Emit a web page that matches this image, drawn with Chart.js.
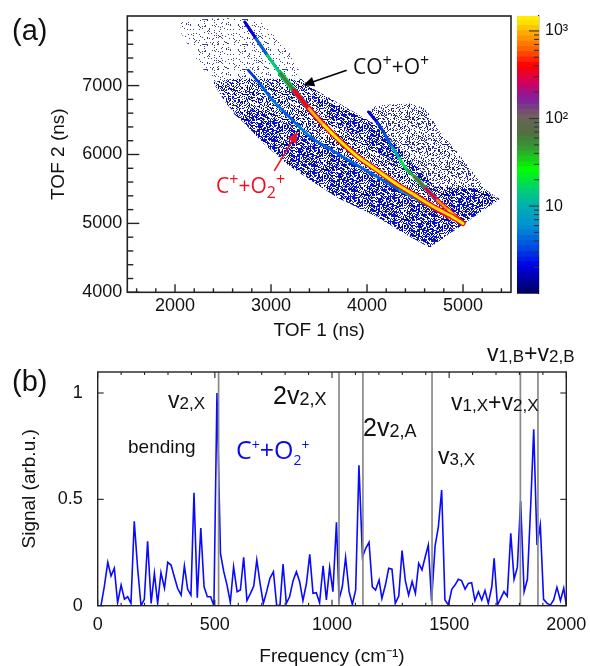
<!DOCTYPE html>
<html lang="en">
<head>
<meta charset="UTF-8">
<title>TOF map and frequency spectrum</title>
<script src="https://cdn.jsdelivr.net/npm/chart.js"></script>
<style>
  body { margin: 0; background: #fff; width: 590px; height: 666px; position: relative; overflow: hidden;
         font-family: "Liberation Sans", Arial, sans-serif; color: #111; }
  .box { position: absolute; }
  #tofMap { filter: blur(0.4px); }
  .ann { position: absolute; white-space: nowrap; line-height: 1; z-index: 5; }
  .panel { font-size: 29px; }
  .ion { font-family: "Open Sans", sans-serif; font-size: 21px; }
  .ion sup, .ion sub { font-size: 16px; line-height: 0; }
  .red { color: #f01020; }
  .blue { color: #0a0aee; font-size: 25px; }
  .blue sup, .blue sub { font-size: 14px; }
  .big { font-size: 25px; }
  .big i { font-style: normal; font-size: 18px; position: relative; top: 1px; }
  .mid { font-size: 23px; }
  .mid i { font-style: normal; font-size: 17px; position: relative; top: 1px; }
</style>
</head>
<body>
<div class="box" style="left:0;top:0;width:515px;height:345px"><canvas id="tofMap"></canvas></div>
<div class="box" style="left:517px;top:0;width:73px;height:310px"><canvas id="palette"></canvas></div>
<div class="box" style="left:0;top:340px;width:590px;height:332px"><canvas id="spectrum"></canvas></div>

<div class="ann panel" style="left:12px;top:16px">(a)</div>
<div class="ann panel" style="left:12px;top:367px">(b)</div>
<div class="ann ion" style="left:353px;top:56px">CO<sup>+</sup>+O<sup>+</sup></div>
<div class="ann ion red" style="left:216px;top:175px">C<sup>+</sup>+O<sub>2</sub><sup>+</sup></div>
<div class="ann" style="left:128px;top:437px;font-size:19px">bending</div>
<div class="ann ion blue" style="left:236px;top:437px">C<sup>+</sup>+O<sub>2</sub><sup>+</sup></div>
<div class="ann mid" style="left:168px;top:389px">v<i>2,X</i></div>
<div class="ann big" style="left:273px;top:383px">2v<i>2,X</i></div>
<div class="ann big" style="left:363px;top:415px">2v<i>2,A</i></div>
<div class="ann mid" style="left:438px;top:445px">v<i>3,X</i></div>
<div class="ann mid" style="left:451px;top:391px">v<i>1,X</i>+v<i>2,X</i></div>
<div class="ann mid" style="left:487px;top:342px">v<i>1,B</i>+v<i>2,B</i></div>

<script>
// event clouds of panel (a), outlines (TOF 1, TOF 2 in ns)
const faintCloudX = [2051, 2067, 2275, 2393, 2609, 2924, 3317, 3199, 2924, 2727, 2373];
const faintCloudY = [7946, 7753, 7270, 7053, 7101, 7101, 7149, 7463, 7898, 7985, 7970];
const bandCloudX = [2393, 2531, 2727, 2924, 3159, 3434, 3710, 4103, 4417, 4653, 5006, 4810, 4496, 4103, 3710, 3434, 3317, 2924, 2609];
const bandCloudY = [7053, 6739, 6449, 6159, 5869, 5604, 5362, 5097, 4831, 4652, 4990, 5386, 5869, 6425, 6739, 6956, 7101, 7101, 7101];
const denseCloudX = [2609, 2727, 2924, 3159, 3434, 3710, 4103, 4417, 4653, 5006, 4998, 4496, 4103, 3710, 3317, 3002, 2766];
const denseCloudY = [6594, 6449, 6159, 5869, 5604, 5362, 5097, 4831, 4652, 4990, 5024, 5386, 5700, 6014, 6352, 6546, 6666];
const upperCloudX = [3434, 3710, 4103, 4496, 4692, 4299, 3906, 3552];
const upperCloudY = [6860, 6690, 6400, 5860, 5530, 5860, 6250, 6590];
const rightCloudX = [4004, 4103, 4456, 4613, 4771, 4928, 5242, 5380, 5006, 4810, 4496, 4103];
const rightCloudY = [6618, 6715, 6739, 6666, 6304, 6063, 5483, 5353, 4990, 5386, 5869, 6425];
const cornerCloudX = [4692, 5164, 5380, 5006, 4810];
const cornerCloudY = [5531, 5507, 5353, 4990, 5290];

// the three coincidence lines with their counts
const mainLineX = [2727, 2845, 2963, 3100, 3238, 3395, 3552, 3710, 3906, 4103, 4299, 4496, 4692, 4889, 4999];
const mainLineY = [7922, 7681, 7439, 7174, 6932, 6666, 6425, 6207, 5966, 5773, 5580, 5411, 5241, 5097, 5000];
const mainLineCounts = [2, 4, 15, 60, 400, 1000, 1400, 1400, 1400, 1400, 1300, 1200, 1200, 1400, 1450];
const lowerLineX = [2766, 2884, 3002, 3120, 3277, 3434, 3631, 3867, 4103, 4338, 4535, 4692, 4849, 4999];
const lowerLineY = [7222, 7029, 6811, 6642, 6425, 6232, 6063, 5869, 5676, 5483, 5338, 5217, 5097, 5000];
const lowerLineCounts = [3, 4, 5, 4, 5, 4, 4, 4, 4, 6, 40, 300, 800, 1450];
const rightLineX = [4016, 4103, 4181, 4260, 4338, 4417, 4496, 4613, 4731, 4849, 4999];
const rightLineY = [6618, 6473, 6304, 6111, 5942, 5773, 5676, 5507, 5338, 5193, 5000];
const rightLineCounts = [2, 3, 4, 10, 22, 40, 100, 300, 800, 1200, 1450];

// colour bar levels
const paletteEdges = [1, 1.15, 1.3, 1.5, 1.75, 2, 2.3, 2.6, 3, 3.5, 4, 4.6, 5.3, 6, 7, 8, 9.2, 10.6, 12, 14, 16, 18.5, 21, 24, 28, 32, 37, 42, 48, 55, 63, 72, 83, 95, 110, 126, 145, 166, 190, 218, 250, 288, 330, 380, 436, 500, 575, 660, 760, 870, 1000, 1150, 1320, 1480];
const paletteMajor = [10, 100, 1000];
const paletteMinor = [2, 3, 4, 5, 6, 7, 8, 9, 20, 30, 40, 50, 60, 70, 80, 90, 200, 300, 400, 500, 600, 700, 800, 900];

// tick values panel (a)
const tofXMajor = [2000, 3000, 4000, 5000];
const tofXMinor = [1600, 1800, 2200, 2400, 2600, 2800, 3200, 3400, 3600, 3800, 4200, 4400, 4600, 4800, 5200, 5400];
const tofYMajor = [4000, 5000, 6000, 7000];
const tofYMinor = [4200, 4400, 4600, 4800, 5200, 5400, 5600, 5800, 6200, 6400, 6600, 6800, 7200, 7400, 7600, 7800];

// arrows [TOF 1, TOF 2]
const blackArrowFrom = [3788, 7222];
const blackArrowTo = [3336, 7005];
const redArrowFrom = [3034, 5763];
const redArrowTo = [3277, 6328];

// spectrum of panel (b)
const frequencies = [0, 14, 28, 43, 57, 71, 85, 100, 114, 128, 142, 156, 171, 185, 199, 213, 228, 242, 256, 270, 285, 299, 313, 327, 341, 356, 370, 384, 398, 411, 425, 440, 454, 468, 482, 496, 509, 524, 538, 552, 566, 580, 595, 609, 623, 637, 652, 666, 679, 693, 707, 721, 735, 750, 764, 778, 791, 805, 819, 834, 848, 862, 876, 891, 905, 919, 933, 947, 962, 976, 990, 1004, 1019, 1030, 1044, 1058, 1073, 1087, 1101, 1115, 1130, 1144, 1158, 1172, 1186, 1201, 1213, 1228, 1242, 1256, 1270, 1285, 1299, 1313, 1327, 1342, 1356, 1370, 1384, 1398, 1411, 1425, 1440, 1454, 1468, 1482, 1497, 1511, 1525, 1539, 1553, 1568, 1582, 1596, 1610, 1625, 1639, 1653, 1667, 1682, 1692, 1706, 1720, 1734, 1748, 1763, 1777, 1791, 1805, 1820, 1834, 1848, 1861, 1875, 1889, 1903, 1918, 1932, 1946, 1960, 1975, 1989, 2000];
const signal = [0, 0, .089, .204, .140, .176, .014, .097, .031, .042, .011, .397, .168, 0, .030, .303, .011, .152, .011, .155, .082, .204, .191, .136, .082, .050, .187, .077, .050, .531, .038, .365, .089, .042, .042, 0, 1, .246, .160, .097, .016, .183, .066, .074, .227, .024, .058, .092, .215, .105, .011, .066, .129, .160, 0, .003, .196, .011, .042, .118, .160, .113, .024, .105, .241, .058, .061, .014, .188, .027, .180, .066, .392, .030, .089, .227, .066, .006, .074, .660, .230, .270, .298, .089, .074, .121, .034, .097, .176, .172, .011, .045, .259, .118, .050, .113, .058, .199, .168, .230, .285, .024, .281, .371, .544, .027, .003, .077, .097, .124, .118, .078, .105, .108, .024, .066, .027, .071, .011, .089, .223, .003, .034, .066, .045, .340, .124, .180, .492, .066, .124, .470, .829, .285, .379, .030, .011, .003, .027, .086, .024, .082, .003];
const bandLines = [516, 1030, 1132, 1427, 1804, 1879];
const freqMajor = [0, 500, 1000, 1500, 2000];
const freqMinor = [100, 200, 300, 400, 600, 700, 800, 900, 1100, 1200, 1300, 1400, 1600, 1700, 1800, 1900];
const signalMajor = [0, 0.5, 1];

// speckle tile for the clouds, one digit per pixel, 40 pixels a row
const speckleDigits =
  "31415926535897932384626433832795028841971693993751" +
  "05820974944592307816406286208998628034825342117067" +
  "98214808651328230664709384460955058223172535940812" +
  "84811174502841027019385211055596446229489549303819" +
  "64428810975665933446128475648233786783165271201909" +
  "14564856692346034861045432664821339360726024914127" +
  "37245870066063155881748815209209628292540917153643" +
  "67892590360011330530548820466521384146951941511609" +
  "43305727036575959195309218611738193261179310511854" +
  "80744623799627495673518857527248912279381830119491" +
  "29833673362440656643086021394946395224737190702179" +
  "86094370277053921717629317675238467481846766940513" +
  "20005681271452635608277857713427577896091736371787" +
  "21468440901224953430146549585371050792279689258923" +
  "54201995611212902196086403441815981362977477130996" +
  "05187072113499999983729780499510597317328160963185" +
  "95024459455346908302642522308253344685035261931188" +
  "17101000313783875288658753320838142061717766914730" +
  "35982534904287554687311595628638823537875937519577" +
  "81857780532171226806613001927876611195909216420198";

function makeSpeckle(threshold, color, dark) {
  const w = 40, h = Math.floor(speckleDigits.length / w);
  const tile = document.createElement('canvas');
  tile.width = w;
  tile.height = h;
  const g = tile.getContext('2d');
  for (let y = 0; y < h; y++) {
    for (let x = 0; x < w; x++) {
      const d = +speckleDigits[y * w + x];
      if (d < threshold) continue;
      g.fillStyle = d === 9 ? dark : color;
      g.fillRect(x, y, 1, 1);
    }
  }
  return g.createPattern(tile, 'repeat');
}

// colour ramp of the colour bar, position = log10(counts)
const rampPos = [0, 0.1, 0.31, 0.54, 0.77, 1, 1.19, 1.41, 1.64, 1.83, 2.02, 2.21, 2.4, 2.6, 2.78, 2.97, 3.08, 3.17];
const rampRgb = [[0, 0, 90], [0, 0, 140], [0, 0, 230], [0, 80, 225], [0, 145, 210], [0, 176, 176], [0, 208, 112], [0, 255, 0], [48, 160, 48], [80, 112, 64], [112, 96, 96], [128, 32, 160], [208, 0, 96], [255, 0, 0], [255, 96, 0], [255, 170, 0], [255, 220, 0], [255, 245, 0]];

function rampColor(count) {
  const p = Math.log10(count);
  let i = 0;
  while (i < rampPos.length - 2 && p > rampPos[i + 1]) i++;
  const t = Math.min(1, Math.max(0, (p - rampPos[i]) / (rampPos[i + 1] - rampPos[i])));
  const c = rampRgb[i].map((v, k) => Math.round(v + (rampRgb[i + 1][k] - v) * t));
  return `rgb(${c[0]},${c[1]},${c[2]})`;
}

function zip(xs, ys) {
  return xs.map((x, i) => ({ x: x, y: ys[i] }));
}

function cloud(xs, ys, pattern, order) {
  return {
    data: zip(xs, ys), showLine: true, fill: 'shape', backgroundColor: pattern,
    borderWidth: 0, pointRadius: 0, tension: 0, order: order
  };
}

// low counts run thinner, hot part gets a yellow core over a darker edge
function curve(xs, ys, counts, width, scaleColor, order) {
  return {
    data: zip(xs, ys), showLine: true, fill: false, pointRadius: 0, tension: 0.2,
    borderWidth: width, borderCapStyle: 'round', order: order,
    segment: {
      borderColor: c => rampColor(Math.max(1, counts[c.p0DataIndex] * scaleColor)),
      borderWidth: c => counts[c.p0DataIndex] < 50 ? Math.min(width, 2.8) : width
    }
  };
}

// axis ticks pointing into the frame, the frame itself and the arrows
function framePlugin(spec) {
  return {
    id: 'frame',
    afterDatasetsDraw(chart) {
      const g = chart.ctx, a = chart.chartArea;
      g.save();
      g.strokeStyle = spec.color;
      g.lineWidth = spec.tickWidth;
      spec.ticks.forEach(t => {
        const s = chart.scales[t.axis];
        t.values.forEach(v => {
          const p = s.getPixelForValue(v);
          g.beginPath();
          if (t.side === 'bottom') { g.moveTo(p, a.bottom); g.lineTo(p, a.bottom - t.len); }
          if (t.side === 'top') { g.moveTo(p, a.top); g.lineTo(p, a.top + t.len); }
          if (t.side === 'left') { g.moveTo(a.left, p); g.lineTo(a.left + t.len, p); }
          if (t.side === 'right') { g.moveTo(a.right, p); g.lineTo(a.right - t.len, p); }
          g.stroke();
        });
      });
      if (spec.box) {
        g.lineWidth = spec.box;
        g.strokeRect(a.left, a.top, a.right - a.left, a.bottom - a.top);
      }
      (spec.arrows || []).forEach(ar => {
        const x0 = chart.scales.x.getPixelForValue(ar.from[0]), y0 = chart.scales.y.getPixelForValue(ar.from[1]);
        const x1 = chart.scales.x.getPixelForValue(ar.to[0]), y1 = chart.scales.y.getPixelForValue(ar.to[1]);
        const ang = Math.atan2(y1 - y0, x1 - x0);
        g.strokeStyle = ar.color; g.fillStyle = ar.color; g.lineWidth = 1.6;
        g.beginPath(); g.moveTo(x0, y0); g.lineTo(x1 - 6 * Math.cos(ang), y1 - 6 * Math.sin(ang)); g.stroke();
        g.beginPath(); g.moveTo(x1, y1);
        g.lineTo(x1 - 12 * Math.cos(ang - 0.42), y1 - 12 * Math.sin(ang - 0.42));
        g.lineTo(x1 - 12 * Math.cos(ang + 0.42), y1 - 12 * Math.sin(ang + 0.42));
        g.closePath(); g.fill();
      });
      g.restore();
    }
  };
}

function setTicks(values) {
  return s => { s.ticks = values.map(v => ({ value: v })); };
}

Chart.defaults.font.family = '"Liberation Sans", Arial, sans-serif';
Chart.defaults.color = '#111';
Chart.defaults.animation = false;
Chart.defaults.responsive = true;
Chart.defaults.maintainAspectRatio = false;
Chart.defaults.plugins.legend.display = false;
Chart.defaults.plugins.tooltip.enabled = false;

const faint = makeSpeckle(9, '#3a3f90', '#3a3f90');
const sparse = makeSpeckle(7, '#2a2f9a', '#1a1f80');
const medium = makeSpeckle(6, '#0d18b8', '#00007a');
const dense = makeSpeckle(4, '#0a14c8', '#00007a');

new Chart(document.getElementById('tofMap'), {
  type: 'scatter',
  data: {
    datasets: [
      cloud(faintCloudX, faintCloudY, faint, 9),
      cloud(rightCloudX, rightCloudY, sparse, 9),
      cloud(bandCloudX, bandCloudY, medium, 8),
      cloud(cornerCloudX, cornerCloudY, dense, 7),
      cloud(denseCloudX, denseCloudY, dense, 7),
      cloud(upperCloudX, upperCloudY, dense, 7),
      curve(lowerLineX, lowerLineY, lowerLineCounts, 3.4, 1, 5),
      curve(rightLineX, rightLineY, rightLineCounts, 4.4, 0.35, 4),
      curve(rightLineX, rightLineY, rightLineCounts, 2.4, 1, 3),
      curve(mainLineX, mainLineY, mainLineCounts, 5.4, 0.3, 2),
      curve(mainLineX, mainLineY, mainLineCounts, 3, 1, 1)
    ]
  },
  options: {
    layout: { padding: { top: 16, right: 4, left: 0, bottom: 0 } },
    scales: {
      x: {
        type: 'linear', min: 1503, max: 5500,
        afterBuildTicks: setTicks(tofXMajor.concat(tofXMinor)),
        afterFit: s => { s.height = 52.7; },
        grid: { display: false, drawTicks: false }, border: { display: false },
        ticks: { autoSkip: false, maxRotation: 0, padding: 3, font: { size: 18 },
                 callback: v => tofXMajor.includes(v) ? String(v) : '' },
        title: { display: true, text: 'TOF 1 (ns)', font: { size: 19 }, padding: { top: 0, bottom: 2.6 } }
      },
      y: {
        type: 'linear', min: 4000, max: 8010,
        afterBuildTicks: setTicks(tofYMajor.concat(tofYMinor)),
        afterFit: s => { s.width = 127.3; },
        grid: { display: false, drawTicks: false }, border: { display: false },
        ticks: { autoSkip: false, padding: 5, font: { size: 18 },
                 callback: v => tofYMajor.includes(v) ? String(v) : '' },
        title: { display: true, text: 'TOF 2 (ns)', font: { size: 19 }, padding: { top: 47.6, bottom: 0 } }
      }
    }
  },
  plugins: [framePlugin({
    color: '#222', tickWidth: 1.4, box: 1.6,
    ticks: [
      { axis: 'x', side: 'bottom', values: tofXMajor, len: 8 },
      { axis: 'x', side: 'bottom', values: tofXMinor, len: 4 },
      { axis: 'y', side: 'left', values: tofYMajor, len: 12 },
      { axis: 'y', side: 'left', values: tofYMinor, len: 6 }
    ],
    arrows: [
      { from: blackArrowFrom, to: blackArrowTo, color: '#000' },
      { from: redArrowFrom, to: redArrowTo, color: '#f01020' }
    ]
  })]
});

new Chart(document.getElementById('palette'), {
  type: 'bar',
  data: {
    labels: ['counts'],
    datasets: paletteEdges.slice(1).map((hi, i) => ({
      data: [[paletteEdges[i], hi * 1.01]],
      backgroundColor: rampColor(Math.sqrt(paletteEdges[i] * hi)),
      borderWidth: 0, borderSkipped: false, barPercentage: 1, categoryPercentage: 1
    }))
  },
  options: {
    layout: { padding: { top: 16, bottom: 16.3, left: 0, right: 0 } },
    scales: {
      x: { stacked: true, display: false },
      y: {
        type: 'logarithmic', position: 'right', min: 1, max: 1480,
        afterBuildTicks: setTicks(paletteMajor.concat(paletteMinor)),
        afterFit: s => { s.width = 51; },
        grid: { display: false, drawTicks: false }, border: { display: true, color: '#222', width: 1.2 },
        ticks: { autoSkip: false, padding: 6, font: { size: 16 },
                 callback: v => ({ 10: '10', 100: '10²', 1000: '10³' })[v] || '' }
      }
    }
  },
  plugins: [framePlugin({
    color: '#333', tickWidth: 1.1,
    ticks: [
      { axis: 'y', side: 'right', values: paletteMajor, len: 10 },
      { axis: 'y', side: 'right', values: paletteMinor, len: 5 }
    ]
  })]
});

new Chart(document.getElementById('spectrum'), {
  type: 'scatter',
  data: {
    datasets: bandLines.map(f => ({
      data: [{ x: f, y: 0 }, { x: f, y: 1.0987 }], showLine: true, pointRadius: 0,
      borderColor: '#8a8a8a', borderWidth: 1.7, order: 1
    })).concat([{
      data: zip(frequencies, signal), showLine: true, pointRadius: 0, tension: 0,
      borderColor: '#0a0aff', borderWidth: 1.6, order: 2
    }])
  },
  options: {
    layout: { padding: { top: 32, right: 23.7, left: 0, bottom: 0 } },
    scales: {
      x: {
        type: 'linear', min: 0, max: 2000,
        afterBuildTicks: setTicks(freqMajor.concat(freqMinor)),
        afterFit: s => { s.height = 66.3; },
        grid: { display: false, drawTicks: false }, border: { display: false },
        ticks: { autoSkip: false, maxRotation: 0, padding: 8.5, font: { size: 18 },
                 callback: v => freqMajor.includes(v) ? String(v) : '' },
        title: { display: true, text: 'Frequency (cm⁻¹)', font: { size: 19 }, padding: { top: 0, bottom: 3.6 } }
      },
      y: {
        type: 'linear', min: 0, max: 1.0987,
        afterBuildTicks: setTicks(signalMajor),
        afterFit: s => { s.width = 97.7; },
        grid: { display: false, drawTicks: false }, border: { display: false },
        ticks: { autoSkip: false, padding: 15, font: { size: 18 },
                 callback: v => String(v) },
        title: { display: true, text: 'Signal (arb.u.)', font: { size: 19 }, padding: { top: 18.6, bottom: 0 } }
      }
    }
  },
  plugins: [framePlugin({
    color: '#222', tickWidth: 1.1, box: 1.4,
    ticks: [
      { axis: 'x', side: 'bottom', values: freqMajor, len: 6 },
      { axis: 'x', side: 'bottom', values: freqMinor, len: 3 },
      { axis: 'x', side: 'top', values: freqMajor, len: 6 },
      { axis: 'x', side: 'top', values: freqMinor, len: 3 },
      { axis: 'y', side: 'left', values: signalMajor, len: 6 },
      { axis: 'y', side: 'right', values: signalMajor, len: 6 }
    ]
  })]
});
</script>
</body>
</html>
